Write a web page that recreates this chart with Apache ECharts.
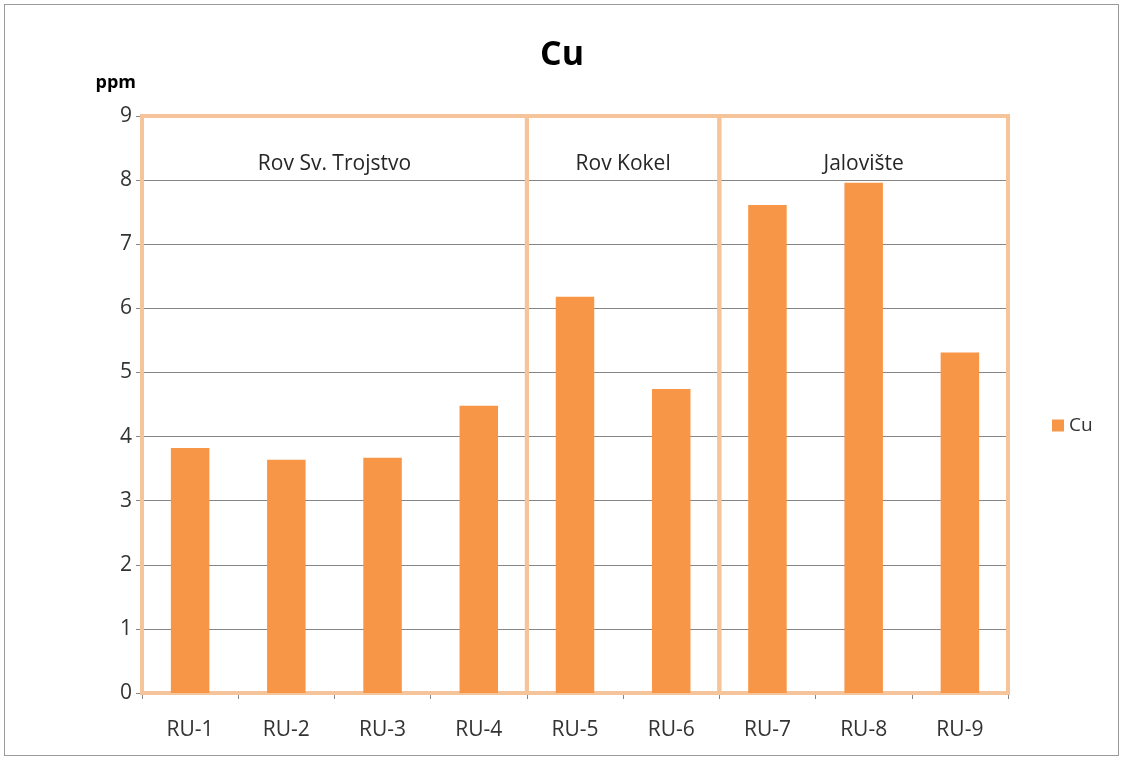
<!DOCTYPE html>
<html>
<head>
<meta charset="utf-8">
<script src="https://cdn.jsdelivr.net/npm/echarts@6/dist/echarts.min.js"></script>
<style>
html,body{margin:0;padding:0;background:#fff;}
#frame{position:absolute;left:4px;top:4px;width:1115px;height:752px;border:1px solid #9a9a9a;box-sizing:border-box;}
#chart{position:absolute;left:0;top:0;width:1124px;height:761px;}
</style>
</head>
<body>
<div id="frame"></div>
<div id="chart"></div>
<script>
const categories = ['RU-1','RU-2','RU-3','RU-4','RU-5','RU-6','RU-7','RU-8','RU-9'];
const cuValues = [3.82, 3.64, 3.67, 4.48, 6.18, 4.74, 7.61, 7.96, 5.31];
const groupNames = ['Rov Sv. Trojstvo', 'Rov Kokel', 'Jalovište'];
const groupStart = ['RU-1', 'RU-5', 'RU-7'];
const groupEnd = ['RU-4', 'RU-6', 'RU-9'];
const yTicks = [0, 9, 1];

const chart = echarts.init(document.getElementById('chart'), null, {renderer: 'canvas'});
const font = '"Open Sans", "Noto Sans", sans-serif';
const boxColor = '#F5C49A';

const markData = groupNames.map((n, i) => [
  {name: n, xAxis: groupStart[i], yAxis: yTicks[0]},
  {xAxis: groupEnd[i], yAxis: yTicks[1]}
]);

chart.setOption({
  animation: false,
  backgroundColor: 'transparent',
  textStyle: {fontFamily: font},
  title: {
    text: 'Cu', left: 'center', top: 33,
    textStyle: {fontSize: 34, fontWeight: 'bold', color: '#000', fontFamily: font}
  },
  legend: {
    data: ['Cu'], orient: 'vertical', left: 1047, top: 411,
    itemWidth: 12, itemHeight: 12, itemGap: 6,
    textStyle: {fontSize: 19, color: '#333333', fontFamily: font},
    icon: 'rect'
  },
  grid: {left: 142, right: 116, top: 116, bottom: 68, containLabel: false},
  xAxis: {
    type: 'category', data: categories,
    axisLine: {show: true, lineStyle: {color: '#868686', width: 1}},
    axisTick: {show: true, alignWithLabel: false, length: 6, lineStyle: {color: '#868686'}},
    axisLabel: {fontSize: 21, color: '#333333', margin: 27, fontFamily: font}
  },
  yAxis: {
    type: 'value', min: yTicks[0], max: yTicks[1], interval: yTicks[2],
    name: 'ppm', nameLocation: 'end', nameGap: 24,
    nameTextStyle: {fontSize: 18, fontWeight: 'bold', color: '#000', align: 'right', padding: [0, 6, 0, 0], fontFamily: font},
    axisLine: {show: false},
    axisTick: {show: true, length: 6, lineStyle: {color: '#868686'}},
    axisLabel: {fontSize: 21, color: '#333333', margin: 10, fontFamily: font},
    splitLine: {show: true, lineStyle: {color: '#868686', width: 1}}
  },
  series: [{
    name: 'Cu', type: 'bar', data: cuValues, barWidth: '40%',
    itemStyle: {color: '#F79646'},
    markArea: {
      silent: true,
      itemStyle: {color: 'rgba(0,0,0,0)', borderColor: boxColor, borderWidth: 4},
      label: {
        show: true, position: 'insideTop', distance: 40,
        fontSize: 21, color: '#262626', fontFamily: font
      },
      data: markData
    }
  }]
});
</script>
</body>
</html>
